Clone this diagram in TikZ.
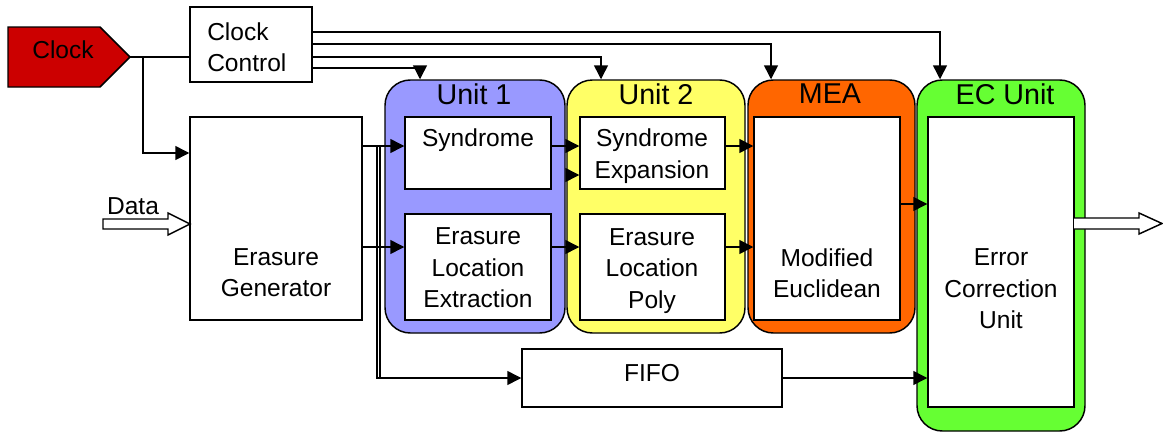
\documentclass[tikz,border=0pt]{standalone}
\usepackage{fontspec}
\setmainfont{Liberation Sans}
\usetikzlibrary{arrows.meta,fit}
\definecolor{clockred}{HTML}{CC0000}
\definecolor{uonefill}{HTML}{9999FF}
\definecolor{utwofill}{HTML}{FFFF66}
\definecolor{meafill}{HTML}{FF6600}
\definecolor{ecfill}{HTML}{66FF33}
\tikzset{
  box/.style={draw, fill=white, line width=1.1pt, inner sep=0pt},
  unitbox/.style={draw, line width=1.1pt, rounded corners=19pt, inner sep=0pt},
  txt/.style={font=\fontsize{18.4}{23.5}\selectfont, align=center, inner sep=0pt},
  ttl/.style={font=\fontsize{21.5}{25}\selectfont, inner sep=0pt},
  conn/.style={line width=1.1pt, -{Triangle[length=10.5pt,width=10.5pt]}},
  wire/.style={line width=1.1pt},
  hollow/.style={draw, fill=white, line width=1.1pt, line join=miter},
}
\begin{document}
\begin{tikzpicture}[x=0.75pt,y=-0.75pt]
\useasboundingbox (0,0) rectangle (1163,432);
% units (backgrounds)
\node[unitbox, fill=uonefill, fit={(385,80) (565,333)}] (u1) {};
\node[unitbox, fill=utwofill, fit={(567,80) (745,333)}] (u2) {};
\node[unitbox, fill=meafill, fit={(748,80) (915,333)}] (mea) {};
\node[unitbox, fill=ecfill, fit={(917,80) (1085,431)}] (ec) {};
\node[ttl] (u1t) at (474,94) {Unit 1};
\node[ttl] (u2t) at (656,94) {Unit 2};
\node[ttl] (meat) at (830,94) {MEA};
\node[ttl] (ect) at (1005,94) {EC Unit};
% clock
\draw[fill=clockred, line width=1.1pt, line join=miter] (8,27) -- (100,27) -- (130,57) -- (100,87) -- (8,87) -- cycle;
\coordinate (clktip) at (130,57);
\node[txt] (clock) at (63,50) {Clock};
% boxes
\node[box, fit={(190,7) (312,82)}] (cc) {};
\node[txt, align=left, anchor=west] (cct) at (207,47) {Clock\\Control};
\node[box, fit={(190,117) (362,320)}] (eg) {};
\node[txt] (egt) at (276,273) {Erasure\\Generator};
\node[box, fit={(405,117) (551,189)}] (syn) {};
\node[txt] (synt) at (478,140) {Syndrome};
\node[box, fit={(405,214) (551,320)}] (ele) {};
\node[txt] (elet) at (478,268) {Erasure\\Location\\Extraction};
\node[box, fit={(580,117) (725,189)}] (se) {};
\node[txt] (set) at (652,156) {Syndrome\\Expansion};
\node[box, fit={(580,214) (725,320)}] (elp) {};
\node[txt] (elpt) at (652,271) {Erasure\\Location\\Poly};
\node[box, fit={(754,117) (900,320)}] (me) {};
\node[txt] (met) at (827,273) {Modified\\Euclidean};
\node[box, fit={(928,117) (1074,407)}] (ecu) {};
\node[txt] (ecut) at (1001,289) {Error\\Correction\\Unit};
\node[box, fit={(522,349) (782,407)}] (fifo) {};
\node[txt] (fifot) at (652,373) {FIFO};
\node[txt] (data) at (133,206) {Data};
% clock wiring
\coordinate (j1) at (143,57);
\draw[wire] (clktip) -- (cc.west |- clktip);
\draw[conn] (j1) |- (eg.west |- 0,153);
\draw[conn] (cc.east |- 0,32) -| (ec.north -| 940,0);
\draw[conn] (cc.east |- 0,44) -| (mea.north -| 771,0);
\draw[conn] (cc.east |- 0,57) -| (u2.north -| 601,0);
\draw[conn] (cc.east |- 0,68) -| (u1.north -| 420,0);
% data path
\draw[conn] (eg.east |- 0,146) -- (syn.west |- 0,146);
\draw[conn] (eg.east |- 0,247) -- (ele.west |- 0,247);
\coordinate (j2) at (377,146);
\coordinate (j3) at (380,146);
\draw[wire] (j3) -- (380,378);
\draw[conn] (j2) |- (fifo.west |- 0,378);
\draw[conn] (syn.east |- 0,146) -- (se.west |- 0,146);
\draw[conn] (u1.east |- 0,175) -- (se.west |- 0,175);
\draw[conn] (ele.east |- 0,247) -- (elp.west |- 0,247);
\draw[conn] (se.east |- 0,146) -- (me.west |- 0,146);
\draw[conn] (elp.east |- 0,247) -- (me.west |- 0,247);
\draw[conn] (me.east |- 0,204) -- (ecu.west |- 0,204);
\draw[conn] (fifo.east |- 0,378) -- (ecu.west |- 0,378);
% hollow arrows
\draw[hollow] (103,219) -- (168,219) -- (168,213) -- (190,224) -- (168,235) -- (168,229) -- (103,229) -- cycle;
\draw[hollow] (1074,218) -- (1139,218) -- (1139,213) -- (1162,223.5) -- (1139,234) -- (1139,229) -- (1074,229);
\end{tikzpicture}
\end{document}
